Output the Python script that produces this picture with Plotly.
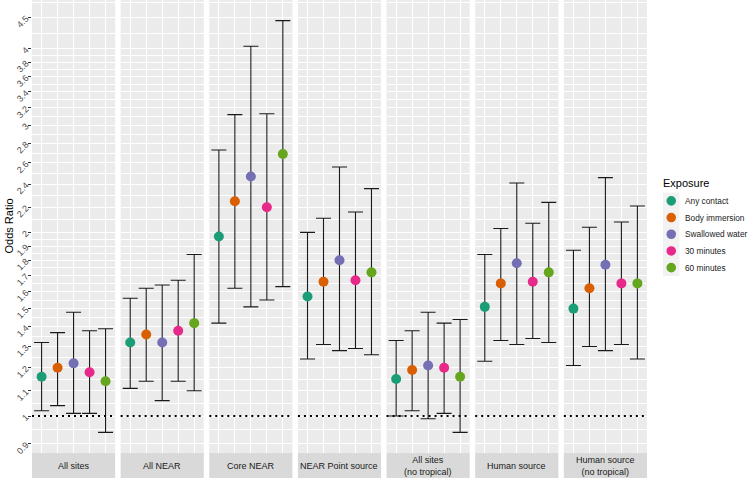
import numpy as np
import plotly.graph_objects as go

# ---------------- data ----------------
panels = ["All sites", "All NEAR", "Core NEAR", "NEAR Point source",
          "All sites\n(no tropical)", "Human source", "Human source\n(no tropical)"]
exposures = ["Any contact", "Body immersion", "Swallowed water", "30 minutes", "60 minutes"]
exposure_colors = ["#1B9E77", "#D95F02", "#7570B3", "#E7298A", "#66A61E"]

odds_ratio = [
    [1.16, 1.20, 1.22, 1.18, 1.14],
    [1.32, 1.36, 1.32, 1.38, 1.42],
    [1.97, 2.25, 2.47, 2.20, 2.69],
    [1.57, 1.66, 1.80, 1.67, 1.72],
    [1.15, 1.19, 1.21, 1.20, 1.16],
    [1.51, 1.65, 1.78, 1.66, 1.72],
    [1.50, 1.62, 1.77, 1.65, 1.65],
]
ci_lower = [
    [1.02, 1.04, 1.01, 1.01, 0.94],
    [1.11, 1.14, 1.06, 1.14, 1.10],
    [1.42, 1.62, 1.51, 1.55, 1.63],
    [1.24, 1.31, 1.28, 1.29, 1.26],
    [1.00, 1.02, 0.99, 1.01, 0.94],
    [1.23, 1.33, 1.31, 1.34, 1.32],
    [1.21, 1.30, 1.28, 1.31, 1.24],
]
ci_upper = [
    [1.32, 1.37, 1.48, 1.38, 1.39],
    [1.56, 1.62, 1.64, 1.67, 1.84],
    [2.73, 3.12, 4.04, 3.13, 4.45],
    [2.00, 2.11, 2.56, 2.16, 2.36],
    [1.33, 1.38, 1.48, 1.42, 1.44],
    [1.84, 2.03, 2.41, 2.07, 2.24],
    [1.87, 2.04, 2.46, 2.08, 2.21],
]
y_ticks = [0.9, 1, 1.1, 1.2, 1.3, 1.4, 1.5, 1.6, 1.7, 1.8, 1.9, 2,
           2.2, 2.4, 2.6, 2.8, 3, 3.2, 3.4, 3.6, 3.8, 4, 4.5]
y_tick_labels = ["0.9", "1", "1.1", "1.2", "1.3", "1.4", "1.5", "1.6", "1.7", "1.8", "1.9", "2",
                 "2.2", "2.4", "2.6", "2.8", "3", "3.2", "3.4", "3.6", "3.8", "4", "4.5"]
reference_line = 1

# ---------------- layout geometry ----------------
W, H = 750, 479
FONT = "Liberation Sans, Arial, Helvetica, sans-serif"
left, pw, step = 32.0, 83.14, 88.64
panel_bottom_px, strip_bottom_px = 453.0, 478.0
y_dom = [1 - panel_bottom_px / H, 1.0]

# log range with 5% expansion (ggplot style)
lo = np.log10(min(min(r) for r in ci_lower))
hi = np.log10(max(max(r) for r in ci_upper))
span = hi - lo
y_range = [lo - 0.05 * span, hi + 0.05 * span]

# minor gridlines (geometric midpoints)
lt = np.log10(y_ticks)
ext = np.concatenate([[lt[0] - (lt[1] - lt[0])], lt, [lt[-1] + (lt[-1] - lt[-2])]])
minor_vals = list(10 ** ((ext[:-1] + ext[1:]) / 2))

fig = go.Figure()
shapes, annotations = [], []
layout_axes = {}

for k, name in enumerate(panels):
    ax = "" if k == 0 else str(k + 1)
    x0 = (left + k * step) / W
    x1 = x0 + pw / W
    layout_axes["xaxis" + ax] = dict(
        domain=[x0, x1], anchor="y", type="category",
        categoryorder="array", categoryarray=exposures,
        range=[-0.6, len(exposures) - 0.4],
        showgrid=True, gridcolor="white", gridwidth=1.07,
        showticklabels=False, ticks="", zeroline=False, showline=False, fixedrange=True,
    )
    ors = np.array(odds_ratio[k]); los = np.array(ci_lower[k]); his = np.array(ci_upper[k])
    fig.add_trace(go.Scatter(
        x=exposures, y=ors, xaxis="x" + ax, yaxis="y", mode="markers",
        marker=dict(color=exposure_colors, size=10, line=dict(width=0)),
        error_y=dict(type="data", symmetric=False, array=his - ors, arrayminus=ors - los,
                     color="#1a1a1a", thickness=1.1, width=7.5),
        showlegend=False, hoverinfo="skip",
    ))
    # dotted reference line
    shapes.append(dict(type="line", xref="x" + ax + " domain", yref="y",
                       x0=0, x1=1, y0=reference_line, y1=reference_line,
                       line=dict(color="black", width=2, dash="2px,4px"), layer="above"))
    # strip
    shapes.append(dict(type="rect", xref="paper", yref="paper", x0=x0, x1=x1,
                       y0=1 - strip_bottom_px / H, y1=1 - panel_bottom_px / H,
                       fillcolor="#D9D9D9", line=dict(width=0), layer="below"))
    annotations.append(dict(text=name.replace("\n", "<br>"), xref="paper", yref="paper",
                            x=(x0 + x1) / 2, y=1 - (panel_bottom_px + strip_bottom_px) / 2 / H,
                            xanchor="center", yanchor="middle", showarrow=False,
                            font=dict(family=FONT, size=9, color="#1A1A1A")))

# y axis title
annotations.append(dict(text="Odds Ratio", xref="paper", yref="paper",
                        x=8 / W, y=1 - (panel_bottom_px / 2) / H, textangle=-90,
                        xanchor="center", yanchor="middle", showarrow=False,
                        font=dict(family=FONT, size=11, color="black")))

# manual legend
annotations.append(dict(text="Exposure", xref="paper", yref="paper", x=661 / W, y=1 - 182.5 / H,
                        xanchor="left", yanchor="middle", showarrow=False,
                        font=dict(family=FONT, size=11, color="black")))
key_top, key_h, key_x0, key_x1 = 192.5, 16.7, 663.0, 679.5
for i, (lab, col) in enumerate(zip(exposures, exposure_colors)):
    ty = key_top + i * key_h
    shapes.append(dict(type="rect", xref="paper", yref="paper",
                       x0=key_x0 / W, x1=key_x1 / W, y0=1 - (ty + key_h) / H, y1=1 - ty / H,
                       fillcolor="#F2F2F2", line=dict(width=0)))
    cx, cy, r = (key_x0 + key_x1) / 2, ty + key_h / 2, 4.8
    shapes.append(dict(type="circle", xref="paper", yref="paper",
                       x0=(cx - r) / W, x1=(cx + r) / W, y0=1 - (cy + r) / H, y1=1 - (cy - r) / H,
                       fillcolor=col, line=dict(width=0)))
    annotations.append(dict(text=lab, xref="paper", yref="paper", x=683 / W, y=1 - cy / H,
                            xanchor="left", yanchor="middle", showarrow=False,
                            font=dict(family=FONT, size=8.3, color="#1A1A1A")))

fig.update_layout(
    width=W, height=H, margin=dict(l=0, r=0, t=0, b=0),
    paper_bgcolor="white", plot_bgcolor="#EBEBEB",
    showlegend=False,
    yaxis=dict(domain=y_dom, anchor="x", type="log", range=y_range,
               tickmode="array", tickvals=y_ticks, ticktext=y_tick_labels, tickangle=-45,
               tickfont=dict(family=FONT, size=9, color="#4D4D4D"),
               ticks="outside", ticklen=3, tickcolor="#333333", tickwidth=1,
               showgrid=True, gridcolor="white", gridwidth=1.07,
               minor=dict(tickmode="array", tickvals=minor_vals, showgrid=True,
                          gridcolor="white", gridwidth=0.53, ticks=""),
               zeroline=False, showline=False, fixedrange=True, automargin=False),
    shapes=shapes, annotations=annotations,
    **layout_axes,
)

fig.write_html("out.html", config={"displayModeBar": False},
               post_script="document.body.style.margin='0';document.body.style.overflow='hidden';")
